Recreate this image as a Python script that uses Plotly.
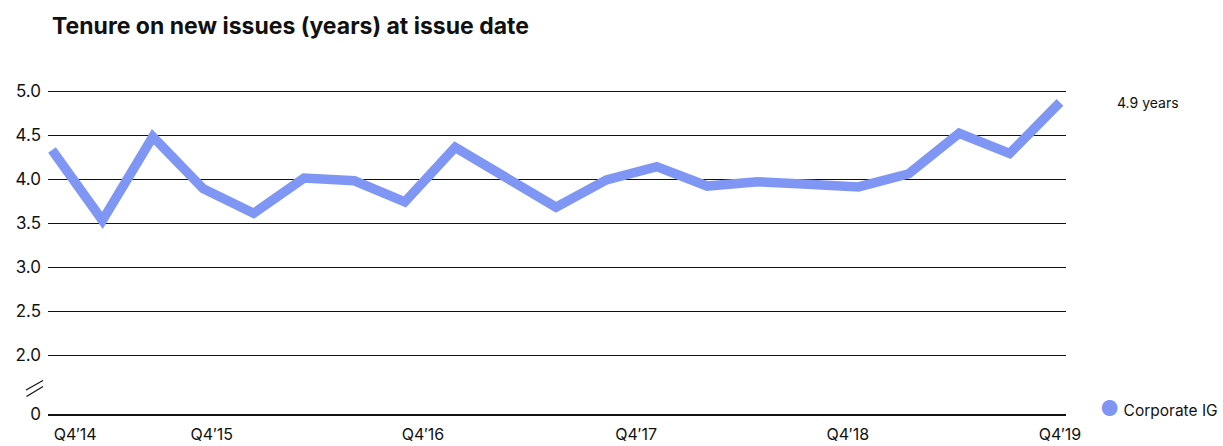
import plotly.graph_objects as go

# Quarterly tenure of new corporate IG issues, Q4'14 .. Q4'19
quarters = list(range(21))
tenure = [4.33, 3.53, 4.48, 3.89, 3.61, 4.01, 3.98, 3.74, 4.36, 4.02, 3.68,
          3.99, 4.14, 3.92, 3.97, 3.94, 3.91, 4.06, 4.52, 4.29, 4.87]
series_name = "Corporate IG"

# x-axis labels and where they sit along the quarter index
x_labels = ["Q4\u203214", "Q4\u203215", "Q4\u203216", "Q4\u203217", "Q4\u203218", "Q4\u203219"]
x_label_pos = [0.46, 3.17, 7.36, 11.59, 15.79, 20.0]

# broken y-axis: the bottom of the range stands in for zero
y_break_base = 1.33
y_ticks = [2.0, 2.5, 3.0, 3.5, 4.0, 4.5, 5.0]

LINE = "#7F96F4"
INK = "#111111"
FONT = "Inter, 'Noto Sans', sans-serif"

fig = go.Figure()
fig.add_trace(go.Scatter(
    x=quarters, y=tenure, mode="lines",
    line=dict(color=LINE, width=9.5),
    name=series_name, showlegend=False, hoverinfo="x+y",
))

W, H = 1223, 446
L, R, T, B = 48, 157, 88, 32
y_top = 5.0 + 3 / 88.0

fig.update_layout(
    width=W, height=H,
    margin=dict(l=L, r=R, t=T, b=B, autoexpand=False),
    paper_bgcolor="white", plot_bgcolor="white",
    font=dict(family=FONT, size=16, color=INK),
    title=dict(text="<b>Tenure on new issues (years) at issue date</b>",
               x=52 / W, xanchor="left", y=1 - 26 / H, yanchor="middle",
               font=dict(family=FONT, size=23, color=INK)),
    xaxis=dict(range=[-0.08, 20.12], showgrid=False, zeroline=False,
               showline=True, linecolor=INK, linewidth=1.5, automargin=False,
               tickmode="array", tickvals=x_label_pos, ticktext=x_labels,
               ticks="", ticklabelstandoff=5,
               tickfont=dict(family=FONT, size=16, color=INK)),
    yaxis=dict(range=[y_break_base, y_top], showgrid=True, gridcolor=INK,
               gridwidth=1, zeroline=False, showline=False, automargin=False,
               tickmode="array", tickvals=[y_break_base] + y_ticks,
               ticktext=["0"] + [f"{v:.1f}" for v in y_ticks],
               ticks="", ticklabelstandoff=6,
               tickfont=dict(family=FONT, size=17, color=INK)),
)

# value label at the last point
fig.add_annotation(
    x=1.0, xref="paper", xanchor="left", xshift=49,
    y=tenure[-1], yref="y", yanchor="middle", yshift=0,
    text=f"{tenure[-1]:.1f} years", showarrow=False,
    font=dict(family=FONT, size=14, color=INK),
)

# legend entry
fig.add_annotation(
    x=1.0, xref="paper", xanchor="left", xshift=32,
    y=0, yref="paper", yanchor="middle", yshift=6,
    text=f"<span style='color:{LINE};font-size:21px'>\u25CF</span> {series_name}",
    showarrow=False, font=dict(family=FONT, size=15.5, color=INK),
)

# axis break marks
pw, ph = W - L - R, H - T - B
def px(x):
    return (x - L) / pw
def py(y):
    return (H - B - y) / ph
for (x0, y0, x1, y1) in [(26, 390, 43, 380.5), (26.5, 396.5, 43, 386.5)]:
    fig.add_shape(type="line", xref="paper", yref="paper",
                  x0=px(x0), y0=py(y0), x1=px(x1), y1=py(y1),
                  line=dict(color=INK, width=1.2))

fig.write_html("out.html")
